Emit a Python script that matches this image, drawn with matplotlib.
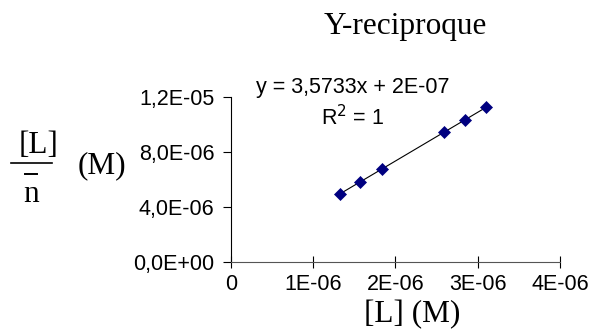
import matplotlib
matplotlib.use('Agg')
import matplotlib.pyplot as plt
from matplotlib.lines import Line2D
import numpy as np

# [L] (M) and [L]/n (M)
conc_L = np.array([1.33, 1.57, 1.83, 2.59, 2.84, 3.10]) * 1e-6
ratio = np.array([4.95, 5.85, 6.75, 9.45, 10.30, 11.25]) * 1e-6

x_ticks = [0, 1e-6, 2e-6, 3e-6, 4e-6]
x_ticklabels = ['0', '1E-06', '2E-06', '3E-06', '4E-06']
y_ticks = [0, 4e-6, 8e-6, 1.2e-5]
y_ticklabels = ['0,0E+00', '4,0E-06', '8,0E-06', '1,2E-05']

serif = 'Liberation Serif'
sans = 'Liberation Sans'

fig = plt.figure(figsize=(5.92, 3.33), dpi=100)
ax = fig.add_axes([231 / 592, 1 - 262 / 333, 329 / 592, 165 / 333])

# trend line over the data range
slope, icpt = np.polyfit(conc_L, ratio, 1)
xf = np.array([conc_L.min(), conc_L.max()])
ax.plot(xf, slope * xf + icpt, color='black', lw=0.8, zorder=2)
ax.plot(conc_L, ratio, ls='none', marker='D', ms=6.5, color='#000080',
        mec='#000080', mew=0.5, zorder=3)

ax.set_xlim(0, 4e-6)
ax.set_ylim(0, 1.2e-5)
ax.set_xticks(x_ticks)
ax.set_xticklabels(x_ticklabels, fontfamily=sans, fontsize=15.5)
ax.set_yticks(y_ticks)
ax.set_yticklabels(y_ticklabels, fontfamily=sans, fontsize=15.5)
ax.tick_params(axis='x', direction='inout', length=8, width=0.8, pad=5)
ax.tick_params(axis='y', direction='out', length=6, width=0.8, pad=6)
for s in ['top', 'right']:
    ax.spines[s].set_visible(False)
ax.spines['bottom'].set_color('#555555')
ax.spines['left'].set_linewidth(0.8)
ax.patch.set_alpha(0)

# title and equation
fig.text(405 / 592, 1 - 34 / 333, 'Y-reciproque', fontfamily=serif, fontsize=22.5,
         ha='center', va='baseline')
fig.text(353 / 592, 1 - 88 / 333, 'y = 3,5733x + 2E-07', fontfamily=sans, fontsize=15.5,
         ha='center', va='center')
fig.text(353 / 592, 1 - 118 / 333, 'R$^2$ = 1', fontfamily=sans, fontsize=15.5,
         ha='center', va='center')

# x label
fig.text(412 / 592, 1 - 322 / 333, '[L] (M)', fontfamily=serif, fontsize=22.5,
         ha='center', va='baseline')

# y label: [L] over n-bar, then (M)
fig.text(39 / 592, 1 - 153 / 333, '[L]', fontfamily=serif, fontsize=22.5,
         ha='center', va='baseline')
fig.add_artist(Line2D([11 / 592, 52 / 592], [1 - 163 / 333, 1 - 163 / 333],
                      color='black', lw=1.2))
fig.text(31 / 592, 1 - 202 / 333, 'n', fontfamily=serif, fontsize=22.5,
         ha='center', va='baseline')
fig.add_artist(Line2D([25 / 592, 37 / 592], [1 - 174 / 333, 1 - 174 / 333],
                      color='black', lw=1.4))
fig.text(102 / 592, 1 - 173 / 333, '(M)', fontfamily=serif, fontsize=22.5,
         ha='center', va='baseline')

fig.savefig('out.png', dpi=100)
